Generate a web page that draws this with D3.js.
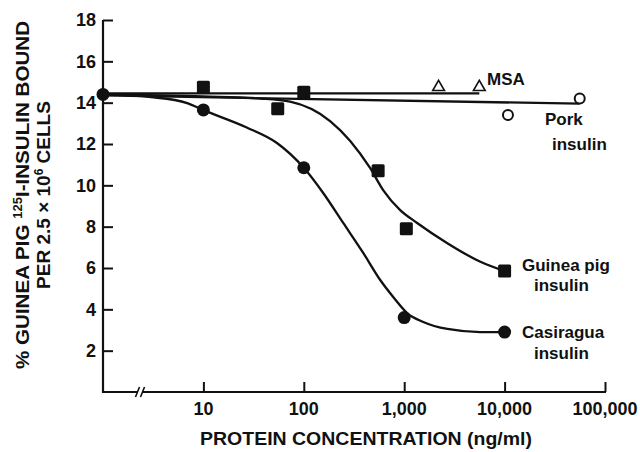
<!DOCTYPE html>
<html>
<head>
<meta charset="utf-8">
<script src="https://cdn.jsdelivr.net/npm/d3@7"></script>
<style>
  body { margin: 0; background: #fff; }
  svg text { font-family: "Liberation Sans", Arial, Helvetica, sans-serif; font-weight: bold; fill: #111; }
</style>
</head>
<body>
<svg width="640" height="452"></svg>
<script>
(function (d3) {
  'use strict';

  // zero concentration (control) is put at 1 ng/ml, i.e. on the y axis, behind the axis break
  const xTicks = [10, 100, 1000, 10000, 100000];
  const xTickLabels = ['10', '100', '1,000', '10,000', '100,000'];
  const yTicks = [2, 4, 6, 8, 10, 12, 14, 16, 18];

  // measured points
  const guineaConc = [1, 10, 55, 100, 550, 1050, 10000];
  const guineaVal  = [14.4, 14.75, 13.7, 14.5, 10.7, 7.9, 5.85];
  const casiConc = [1, 10, 100, 1000, 10000];
  const casiVal  = [14.4, 13.65, 10.85, 3.6, 2.9];
  const msaConc = [2200, 5600];
  const msaVal  = [14.75, 14.75];
  const porkConc = [10800, 56000];
  const porkVal  = [13.4, 14.2];

  // hand drawn curves
  const guineaCurveConc = [1, 10, 37, 73, 184, 290, 457, 617, 912, 1346, 2690, 5740, 10000];
  const guineaCurveVal  = [14.4, 14.3, 14.2, 14.05, 13.1, 12.15, 10.84, 9.77, 8.8, 8.18, 7.2, 6.3, 5.85];
  const casiCurveConc = [1, 3, 6.9, 10, 27, 54, 100, 156, 247, 391, 577, 777, 1070, 1550, 2690, 5740, 10000];
  const casiCurveVal  = [14.4, 14.27, 13.98, 13.64, 12.8, 12.05, 10.85, 9.63, 8.18, 6.73, 5.42, 4.6, 3.82, 3.39, 3.05, 2.9, 2.9];
  const msaLineConc = [1, 5600];
  const msaLineVal  = [14.45, 14.45];
  const porkLineConc = [1, 56000];
  const porkLineVal  = [14.35, 13.95];

  const svg = d3.select('svg');

  const x = d3.scaleLog().domain([1, 100000]).range([103, 605]);
  const y = d3.scaleLinear().domain([0, 18]).range([392, 20]);

  const zip = (a, b) => a.map((v, i) => [v, b[i]]);

  // axes
  const yAxis = d3.axisRight(y).tickValues(yTicks).tickSize(10).tickFormat('');
  svg.append('g').attr('transform', 'translate(' + x(1) + ',0)').call(yAxis)
    .call(g => g.select('.domain').remove())
    .call(g => g.selectAll('line').attr('stroke', '#111').attr('stroke-width', 2));

  const xAxis = d3.axisTop(x).tickValues(xTicks).tickSize(10).tickFormat('');
  svg.append('g').attr('transform', 'translate(0,' + y(0) + ')').call(xAxis)
    .call(g => g.select('.domain').remove())
    .call(g => g.selectAll('line').attr('stroke', '#111').attr('stroke-width', 2));

  svg.append('line').attr('x1', x(1)).attr('x2', x(1)).attr('y1', y(0) + 1).attr('y2', y(18))
    .attr('stroke', '#111').attr('stroke-width', 2.2);
  svg.append('line').attr('x1', x(1) - 1).attr('x2', x(100000) + 1).attr('y1', y(0)).attr('y2', y(0))
    .attr('stroke', '#111').attr('stroke-width', 2.2);

  // axis break
  const bx = 140;
  svg.append('rect').attr('x', bx - 2).attr('y', y(0) - 3).attr('width', 4).attr('height', 6).attr('fill', '#fff');
  [-2.5, 2.5].forEach(dx => {
    svg.append('line')
      .attr('x1', bx + dx - 2).attr('y1', y(0) + 5)
      .attr('x2', bx + dx + 2).attr('y2', y(0) - 5)
      .attr('stroke', '#111').attr('stroke-width', 1.6);
  });

  // tick labels
  svg.append('g').selectAll('text').data(yTicks).enter().append('text')
    .attr('x', 96).attr('y', d => y(d)).attr('dy', '0.36em')
    .attr('text-anchor', 'end').attr('font-size', 18)
    .text(d => d);

  svg.append('g').selectAll('text').data(xTicks).enter().append('text')
    .attr('x', d => x(d)).attr('y', 415)
    .attr('text-anchor', 'middle').attr('font-size', 18)
    .text((d, i) => xTickLabels[i]);

  // axis titles
  svg.append('text').attr('x', 366).attr('y', 445).attr('text-anchor', 'middle')
    .attr('font-size', 19).attr('textLength', 332).attr('lengthAdjust', 'spacingAndGlyphs')
    .text('PROTEIN CONCENTRATION (ng/ml)');

  const t1 = svg.append('text').attr('transform', 'translate(28.5,195) rotate(-90)')
    .attr('text-anchor', 'middle').attr('font-size', 19)
    .attr('textLength', 348).attr('lengthAdjust', 'spacingAndGlyphs');
  t1.append('tspan').text('% GUINEA PIG ');
  t1.append('tspan').attr('font-size', 12).attr('dy', -7).text('125');
  t1.append('tspan').attr('dy', 7).text('I-INSULIN BOUND');

  const t2 = svg.append('text').attr('transform', 'translate(49.5,195) rotate(-90)')
    .attr('text-anchor', 'middle').attr('font-size', 19);
  t2.append('tspan').text('PER 2.5 \u00d7 10');
  t2.append('tspan').attr('font-size', 12).attr('dy', -7).text('6');
  t2.append('tspan').attr('dy', 7).text(' CELLS');

  // lines
  const line = d3.line().x(d => x(d[0])).y(d => y(d[1]));
  const smooth = d3.line().x(d => x(d[0])).y(d => y(d[1])).curve(d3.curveMonotoneX);

  const lines = [
    [msaLineConc, msaLineVal, line],
    [porkLineConc, porkLineVal, line],
    [guineaCurveConc, guineaCurveVal, smooth],
    [casiCurveConc, casiCurveVal, smooth]
  ];
  lines.forEach(l => {
    svg.append('path').datum(zip(l[0], l[1])).attr('d', l[2])
      .attr('fill', 'none').attr('stroke', '#111').attr('stroke-width', 2.3);
  });

  // markers
  svg.append('g').selectAll('rect').data(zip(guineaConc, guineaVal).slice(1)).enter().append('rect')
    .attr('x', d => x(d[0]) - 6.5).attr('y', d => y(d[1]) - 6.5)
    .attr('width', 13).attr('height', 13).attr('rx', 1.5).attr('fill', '#111');

  svg.append('g').selectAll('circle').data(zip(casiConc, casiVal)).enter().append('circle')
    .attr('cx', d => x(d[0])).attr('cy', d => y(d[1])).attr('r', 6.5).attr('fill', '#111');

  const tri = d3.symbol().type(d3.symbolTriangle).size(60);
  svg.append('g').selectAll('path').data(zip(msaConc, msaVal)).enter().append('path')
    .attr('d', tri).attr('transform', d => 'translate(' + x(d[0]) + ',' + y(d[1]) + ')')
    .attr('fill', '#fff').attr('stroke', '#111').attr('stroke-width', 1.6);

  svg.append('g').selectAll('circle').data(zip(porkConc, porkVal)).enter().append('circle')
    .attr('cx', d => x(d[0])).attr('cy', d => y(d[1])).attr('r', 5)
    .attr('fill', '#fff').attr('stroke', '#111').attr('stroke-width', 2);

  // series labels
  const labels = [
    ['MSA', 487, 85],
    ['Pork', 545, 125],
    ['insulin', 552, 150],
    ['Guinea pig', 522, 271],
    ['insulin', 534, 291],
    ['Casiragua', 522, 338],
    ['insulin', 534, 359]
  ];
  svg.append('g').selectAll('text').data(labels).enter().append('text')
    .attr('x', d => d[1]).attr('y', d => d[2]).attr('font-size', 17)
    .text(d => d[0]);

}(d3));
</script>
</body>
</html>
